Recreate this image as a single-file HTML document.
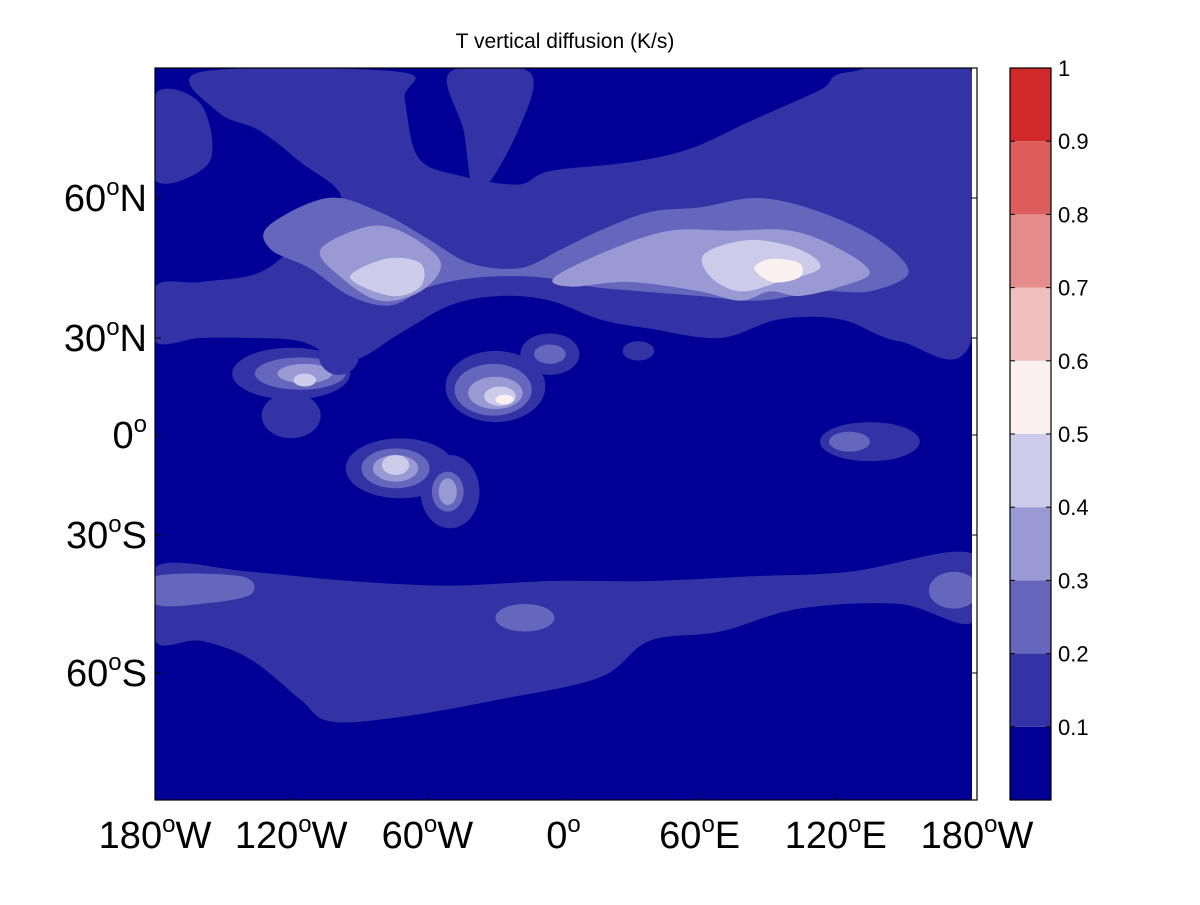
<!DOCTYPE html>
<html><head><meta charset="utf-8"><style>
body{margin:0;background:#fff;width:1200px;height:900px;overflow:hidden;font-family:"Liberation Sans",sans-serif}
</style></head><body>
<svg id="chart" width="1200" height="900" xmlns="http://www.w3.org/2000/svg">
<text x="565" y="48" font-size="21" text-anchor="middle" font-family="Liberation Sans, sans-serif">T vertical diffusion (K/s)</text>
<g id="map"></g>
<g id="axes"></g>
<g id="cbar"></g>
</svg>
<script>
const levels=[0,0.1,0.2,0.3,0.4,0.5,0.6,0.7,0.8,0.9,1];
const levelColors=["#000096","#3333a6","#6666bd","#9999d3","#ccccea","#fbf0f0","#f0c0c0","#e68c8c","#dd5c5c","#d22a2a"];
const cbarTicks=[0.1,0.2,0.3,0.4,0.5,0.6,0.7,0.8,0.9,1];
const latTicks=[60,30,0,-30,-60];
const latLabels=["60","30","0","30","60"];
const latHemi=["N","N","","S","S"];
const lonTicks=[-180,-120,-60,0,60,120,180];
const lonLabels=["180","120","60","0","60","120","180"];
const lonHemi=["W","W","W","","E","E","W"];
// contour regions: [level index, polygon in lon/lat]
const regions=[
[1,[[-160,88],[-72,88],[-70,82],[-64,69],[-46,65],[-20,63],[-6,66],[30,68],[56,71],[82,77],[113,84],[126,88],[180,88],[180,30],[148,29],[122,34],[95,34],[69,30],[38,32],[16,34],[-6,38],[-28,39],[-50,37],[-72,31],[-94,23],[-116,29],[-138,30],[-160,30],[-180,29],[-180,41],[-160,42],[-134,44],[-116,51],[-98,60],[-116,68],[-134,75],[-152,79]]],
[1,[[-180,83],[-160,81],[-156,68],[-180,64]]],
[1,[[-50,88],[-15,88],[-20,75],[-38,61],[-44,75]]],
[2,[[-130,54],[-104,60],[-81,57],[-59,51],[-41,46],[-19,45],[-1,49],[16,53],[38,57],[60,58],[86,60],[113,57],[139,51],[152,44],[135,40],[113,40],[86,38],[60,39],[34,40],[12,41],[-10,43],[-37,43],[-59,41],[-76,37],[-94,39],[-112,45],[-129,49]]],
[3,[[-107,49],[-85,54],[-68,52],[-54,46],[-63,40],[-81,38],[-98,43]]],
[3,[[-4,43],[21,49],[47,53],[73,53],[100,53],[122,49],[135,44],[122,41],[104,39],[91,40],[78,38],[60,40],[29,42],[3,41]]],
[4,[[-94,43],[-78,47],[-63,46],[-63,41],[-76,39]]],
[4,[[62,48],[82,51],[104,49],[113,45],[95,42],[78,40],[65,43]]],
[5,[[84,45],[92,47],[104,46],[104,43],[92,42]]],
[1,[[-180,-37],[-138,-38],[-94,-40],[-50,-41],[-6,-40],[38,-40],[82,-39],[126,-38],[180,-34],[180,-49],[148,-45],[104,-46],[69,-51],[38,-53],[16,-61],[-28,-66],[-72,-70],[-103,-71],[-116,-66],[-138,-57],[-160,-53],[-180,-53]]],
[2,[[-180,-39],[-142,-39],[-138,-43],[-160,-45],[-180,-45]]],
];
// elliptical cells: [level index, lon, lat, rLon, rLat]
const cells=[
[1,-120,19,26,8],[1,-120,6,13,7],[2,-116,19,20,5],[3,-114,19,12,3],[4,-114,17,5,2],
[1,-30,15,22,11],[2,-31,14,17,8],[3,-30,13,12,5],[4,-28,12,7,3],[5,-26,11,4,1.5],
[1,-6,25,13,6],[2,-6,25,7,3],[1,-99,25,9,6],[1,33,26,7,3],
[1,-72,-10,24,9],[1,-50,-17,13,11],[2,-74,-10,15,6],[3,-74,-10,10,4],[4,-74,-9,6,3],
[2,-51,-17,7,6],[3,-51,-17,4,4],
[1,135,-2,22,6],[2,126,-2,9,3],
[2,-17,-48,13,3],[2,172,-42,11,4],
];
const X0=155,X1=972,Y0=68,Y1=800;
const latK=[90,60,30,0,-30,-60,-90], latP=[63,198,338,435,535,673,805];
function xs(lon){return X0+(lon+180)/360*(X1-X0);}
function ys(lat){for(let i=0;i<latK.length-1;i++){if(lat<=latK[i]&&lat>=latK[i+1]){const t=(latK[i]-lat)/(latK[i]-latK[i+1]);return latP[i]+t*(latP[i+1]-latP[i]);}}return lat>0?latP[0]:latP[6];}
function vy(v){return 800-(v/1)*(800-68);}
const NS="http://www.w3.org/2000/svg";
function mk(tag,attrs,parent){const e=document.createElementNS(NS,tag);for(const k in attrs)e.setAttribute(k,attrs[k]);parent.appendChild(e);return e;}
function smooth(pts){const n=pts.length;let d=`M${pts[0][0]},${pts[0][1]}`;for(let i=0;i<n;i++){const p0=pts[(i-1+n)%n],p1=pts[i],p2=pts[(i+1)%n],p3=pts[(i+2)%n];const c1=[p1[0]+(p2[0]-p0[0])/6,p1[1]+(p2[1]-p0[1])/6],c2=[p2[0]-(p3[0]-p1[0])/6,p2[1]-(p3[1]-p1[1])/6];d+=`C${c1[0]},${c1[1]} ${c2[0]},${c2[1]} ${p2[0]},${p2[1]}`;}return d+"Z";}
const map=document.getElementById('map');
const cp=mk('clipPath',{id:'clip'},map);mk('rect',{x:X0,y:Y0,width:X1-X0,height:Y1-Y0},cp);
const g=mk('g',{'clip-path':'url(#clip)'},map);
const bg=mk('rect',{x:X0,y:Y0,width:X1-X0,height:Y1-Y0,fill:levelColors[0]},g);


regions.forEach(r=>{const pts=r[1].map(p=>[xs(p[0]),ys(p[1])]);const p=mk('path',{d:smooth(pts),fill:levelColors[r[0]]},g);

});
cells.forEach(c=>{const cx=xs(c[1]),cy=ys(c[2]);const rx=xs(c[1]+c[3])-cx,ry=Math.abs(ys(c[2]+c[4])-cy);const e=mk('ellipse',{cx:cx,cy:cy,rx:rx,ry:ry,fill:levelColors[c[0]]},g);

});
const ax=document.getElementById('axes');
mk('rect',{x:X0,y:Y0,width:977-X0,height:Y1-Y0,fill:'none',stroke:'#000','stroke-width':1.2},ax);
latTicks.forEach((t,i)=>{const y=ys(t);mk('line',{x1:X0,x2:X0+6,y1:y,y2:y,stroke:'#000'},ax);mk('line',{x1:977,x2:971,y1:y,y2:y,stroke:'#000'},ax);
const tx=mk('text',{x:147,y:y+13,'font-size':38,'text-anchor':'end'},ax);


tx.innerHTML=latLabels[i]+'<tspan font-size="24" dy="-16">o</tspan><tspan dy="16">'+latHemi[i]+'</tspan>';});
lonTicks.forEach((t,i)=>{const x=t===180?977:xs(t);mk('line',{x1:x,x2:x,y1:Y1,y2:Y1-6,stroke:'#000'},ax);
const tx=mk('text',{x:x,y:848,'font-size':38,'text-anchor':'middle'},ax);


tx.innerHTML=lonLabels[i]+'<tspan font-size="24" dy="-16">o</tspan><tspan dy="16">'+lonHemi[i]+'</tspan>';});
const cb=document.getElementById('cbar');
for(let i=0;i<levelColors.length;i++){const r=mk('rect',{x:1010,y:vy(levels[i+1]),width:41,height:vy(levels[i])-vy(levels[i+1]),fill:levelColors[i]},cb);

}
mk('rect',{x:1010,y:68,width:41,height:732,fill:'none',stroke:'#000','stroke-width':1.2},cb);
cbarTicks.forEach(t=>{const y=vy(t);mk('line',{x1:1010,x2:1015,y1:y,y2:y,stroke:'#000'},cb);mk('line',{x1:1051,x2:1046,y1:y,y2:y,stroke:'#000'},cb);
const tx=mk('text',{x:1058,y:y+8,'font-size':22},cb);


tx.textContent=String(t);});
</script>
</body></html>
